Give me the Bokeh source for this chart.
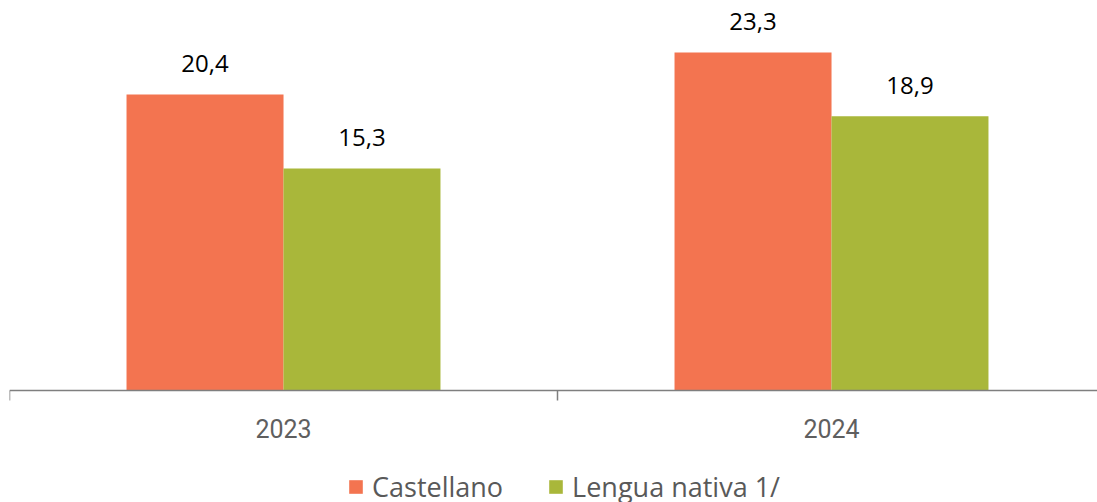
from bokeh.plotting import figure
from bokeh.models import Range1d, FixedTicker, ColumnDataSource, Legend, LegendItem, LabelSet
from bokeh.core.properties import value
from bokeh.embed import file_html
from bokeh.resources import INLINE

years = ["2023", "2024"]
castellano = [20.4, 23.3]
lengua_nativa = [15.3, 18.9]
series_names = ["Castellano", "Lengua nativa 1/"]
colors = ["#F37450", "#A9B73A"]

centers = [i + 0.5 for i in range(len(years))]
bw = 0.2865
off = 0.1432

def fmt(v):
    return f"{v:.1f}".replace(".", ",")

src_c = ColumnDataSource(dict(x=[c - off for c in centers], y=castellano,
                              lab=[fmt(v) for v in castellano]))
src_n = ColumnDataSource(dict(x=[c + off for c in centers], y=lengua_nativa,
                              lab=[fmt(v) for v in lengua_nativa]))

FW, FH = 1088, 494
px_per_unit = 14.51
p = figure(frame_width=FW, frame_height=FH, output_backend="svg", toolbar_location=None,
           x_range=Range1d(0, FW / 548),
           y_range=Range1d(-112 / px_per_unit, 382 / px_per_unit),
           y_axis_location=None,
           min_border_left=9, min_border_right=0, min_border_top=8, min_border_bottom=0)
p.xgrid.visible = False
p.ygrid.visible = False
p.outline_line_color = None

r1 = p.vbar(x="x", top="y", width=bw, source=src_c, color=colors[0], line_color=None)
r2 = p.vbar(x="x", top="y", width=bw, source=src_n, color=colors[1], line_color=None)

for s in (src_c, src_n):
    p.add_layout(LabelSet(x="x", y="y", text="lab", source=s, text_align="center",
                          text_baseline="bottom", y_offset=22, text_font=value("Open Sans"),
                          text_font_size="24px", text_color="#000000"))

ax = p.xaxis[0]
ax.fixed_location = 0
ax.ticker = FixedTicker(ticks=centers, minor_ticks=[0, 1, 2])
ax.major_label_overrides = {c: y for c, y in zip(centers, years)}
ax.major_tick_out = 0
ax.major_tick_in = 0
ax.minor_tick_out = 10
ax.minor_tick_in = 0
ax.minor_tick_line_color = "#7f7f7f"
ax.minor_tick_line_width = 1.5
ax.axis_line_color = "#7f7f7f"
ax.axis_line_width = 1.5
ax.major_label_standoff = 18
ax.major_label_text_font = "Roboto"
ax.major_label_text_font_size = "25px"
ax.major_label_text_color = "#5f5f5f"

legend = Legend(items=[LegendItem(label=series_names[0], renderers=[r1]),
                       LegendItem(label=series_names[1], renderers=[r2])],
                orientation="horizontal", location=(338, -3),
                glyph_width=17, glyph_height=17, label_standoff=8, spacing=44,
                label_text_font="Open Sans", label_text_font_size="27px",
                label_text_color="#595959", border_line_color=None,
                background_fill_alpha=0, padding=0, margin=0)
p.add_layout(legend, "center")

open("out.html", "w").write(file_html(p, INLINE))
